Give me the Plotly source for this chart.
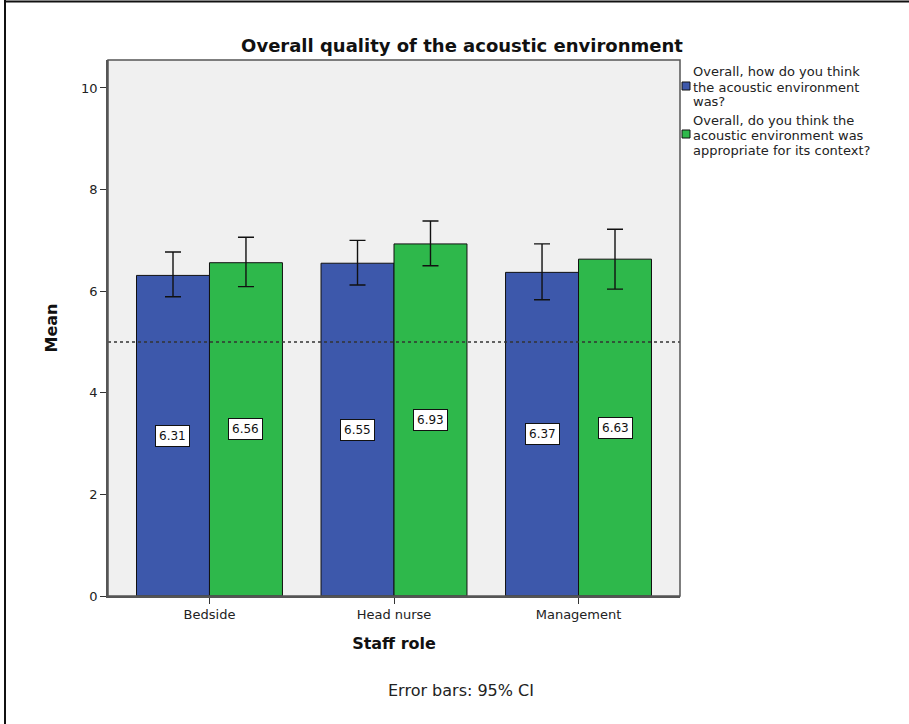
import plotly.graph_objects as go

categories = ["Bedside", "Head nurse", "Management"]
legend_lines = [
    ["Overall, how do you think", "the acoustic environment", "was?"],
    ["Overall, do you think the", "acoustic environment was", "appropriate for its context?"],
]
mean_how = [6.31, 6.55, 6.37]
mean_appropriate = [6.56, 6.93, 6.63]
ci_upper_how = [6.77, 7.00, 6.93]
ci_lower_how = [5.89, 6.12, 5.83]
ci_upper_appropriate = [7.06, 7.38, 7.22]
ci_lower_appropriate = [6.09, 6.50, 6.04]
reference_value = 5
y_ticks = [0, 2, 4, 6, 8, 10]

BLUE = "#3D58AB"
GREEN = "#2EB84B"
FONT = "DejaVu Sans, Verdana, sans-serif"

W, H = 909, 724
L, R, T, B = 108, 680, 60, 596  # plot area in pixels


def px(x):
    return (x - L) / (R - L)


def py(y):
    return (B - y) / (B - T)


fig = go.Figure()

for means, up, lo, color in [
    (mean_how, ci_upper_how, ci_lower_how, BLUE),
    (mean_appropriate, ci_upper_appropriate, ci_lower_appropriate, GREEN),
]:
    fig.add_trace(go.Bar(
        x=categories, y=means,
        marker=dict(color=color, line=dict(color="#111", width=1)),
        error_y=dict(type="data", symmetric=False,
                     array=[u - m for u, m in zip(up, means)],
                     arrayminus=[m - l for l, m in zip(lo, means)],
                     color="#111", thickness=1.4, width=8),
        showlegend=False,
    ))

# value labels
for means, shift in [(mean_how, -36.5), (mean_appropriate, 36.5)]:
    for c, m in zip(categories, means):
        fig.add_annotation(
            x=c, y=m / 2, xref="x", yref="y", text=f"{m:.2f}", showarrow=False,
            xshift=shift, font=dict(family=FONT, size=12, color="#111"),
            bgcolor="white", bordercolor="#111", borderwidth=1, borderpad=3,
        )

# reference line
fig.add_shape(type="line", xref="paper", yref="y", x0=0, x1=1,
              y0=reference_value, y1=reference_value,
              line=dict(color="#333", width=1.4, dash="3px,3px"))

# plot border
fig.add_shape(type="rect", xref="paper", yref="paper", x0=0, x1=1, y0=0, y1=1,
              line=dict(color="#555", width=1.5), layer="above")

# outer frame lines (left and top)
fig.add_shape(type="line", xref="paper", yref="paper", x0=px(5), x1=px(5),
              y0=py(0), y1=py(724), line=dict(color="#111", width=2))
fig.add_shape(type="line", xref="paper", yref="paper", x0=px(5), x1=px(909),
              y0=py(1.5), y1=py(1.5), line=dict(color="#111", width=2))

# custom legend
for lines, color, y0, sw in [(legend_lines[0], BLUE, 72, 86), (legend_lines[1], GREEN, 120, 134)]:
    fig.add_shape(type="rect", xref="paper", yref="paper",
                  x0=px(682), x1=px(690), y0=py(sw - 4), y1=py(sw + 4),
                  fillcolor=color, line=dict(color="#111", width=1))
    for i, line in enumerate(lines):
        fig.add_annotation(x=px(692), y=py(y0 + 15 * i), xref="paper", yref="paper",
                           text=line, showarrow=False, xanchor="left", yanchor="middle",
                           align="left", borderpad=0,
                           font=dict(family=FONT, size=13, color="#222"))

# footnote
fig.add_annotation(x=px(461), y=py(690), xref="paper", yref="paper",
                   text="Error bars: 95% CI", showarrow=False,
                   xanchor="center", yanchor="middle",
                   font=dict(family=FONT, size=16, color="#222"))

fig.update_layout(
    width=W, height=H,
    margin=dict(l=L, r=W - R, t=T, b=H - B, pad=0),
    paper_bgcolor="white", plot_bgcolor="#F0F0F0",
    barmode="group", bargap=0.209, bargroupgap=0,
    title=dict(text="<b>Overall quality of the acoustic environment</b>",
               xref="container", x=462 / W, xanchor="center",
               yref="container", y=1 - 46 / H, yanchor="middle",
               font=dict(family=FONT, size=18, color="#111")),
    font=dict(family=FONT, color="#222"),
    xaxis=dict(range=[-0.55, 2.55], ticks="outside", ticklen=6, tickcolor="#333",
               showgrid=False, showline=True, linecolor="#555", linewidth=1.5,
               tickfont=dict(size=13, color="#222"),
               title=dict(text="<b>Staff role</b>", font=dict(size=16, color="#111"), standoff=16)),
    yaxis=dict(range=[0, 10.55], tickvals=y_ticks, ticks="outside", ticklen=6,
               tickcolor="#333", showgrid=False, zeroline=False, showline=True,
               linecolor="#555", linewidth=1.5, tickfont=dict(size=13, color="#222"),
               title=dict(text="<b>Mean</b>", font=dict(size=16, color="#111"), standoff=20)),
)

fig.write_html("out.html", config={"displayModeBar": False},
               post_script="document.body.style.margin='0px';")
